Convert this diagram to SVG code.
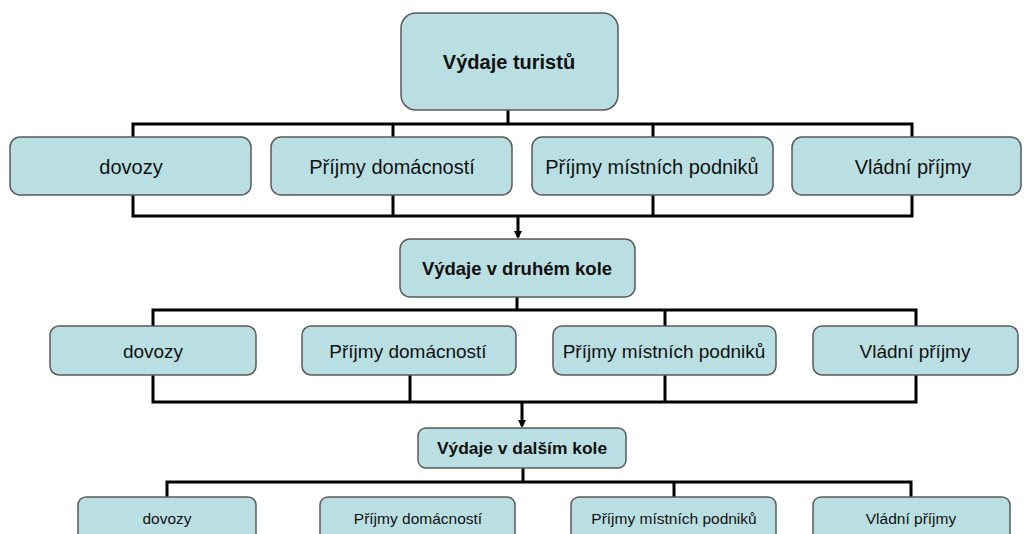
<svg xmlns="http://www.w3.org/2000/svg" width="1024" height="534" viewBox="0 0 1024 534">
<style>
.box{fill:#badfe3;stroke:#5a5a5a;stroke-width:1.5}
.t{font-family:"Liberation Sans",Arial,sans-serif;fill:#111;text-anchor:middle;dominant-baseline:central}
.b{font-weight:bold}
.c{fill:none;stroke:#000;stroke-width:3}
</style>
<defs>
<marker id="ah" markerWidth="8" markerHeight="8" refX="6" refY="4" orient="auto" markerUnits="userSpaceOnUse">
<path d="M0,0 L8,4 L0,8 Z" fill="#000"/>
</marker>
</defs>
<rect width="1024" height="534" fill="#fff"/>
<g id="connectors">
<path class="c" d="M508,110 V124 M133,139 V124 H912 V139 M393,124 V139 M653,124 V139"/>
<path class="c" d="M133,195 V216 H912 V195 M393,195 V216 M653,195 V216"/>
<path class="c" d="M518,216 V237" marker-end="url(#ah)"/>
<path class="c" d="M517,297 V310 M153,327 V310 H916 V327 M665,310 V327"/>
<path class="c" d="M153,375 V402 H916 V375 M410,375 V402 M665,375 V402"/>
<path class="c" d="M522,402 V426" marker-end="url(#ah)"/>
<path class="c" d="M523,468 V482 M167,498 V482 H911 V498 M674,482 V498"/>
</g>
<g id="n0"><rect class="box" x="401" y="13" width="217" height="97" rx="15"/><text class="t b" x="509" y="62" font-size="20">Výdaje turistů</text></g>
<g id="n1"><rect class="box" x="10" y="137" width="241" height="58" rx="10"/><text class="t" x="131" y="167" font-size="20">dovozy</text></g>
<g id="n2"><rect class="box" x="271" y="137" width="241" height="58" rx="10"/><text class="t" x="392" y="167" font-size="20">Příjmy domácností</text></g>
<g id="n3"><rect class="box" x="532" y="137" width="241" height="58" rx="10"/><text class="t" x="652" y="167" font-size="20">Příjmy místních podniků</text></g>
<g id="n4"><rect class="box" x="792" y="137" width="229" height="58" rx="10"/><text class="t" x="913" y="167" font-size="20">Vládní příjmy</text></g>
<g id="n5"><rect class="box" x="400" y="239" width="235" height="58" rx="10"/><text class="t b" x="517" y="268" font-size="18.5">Výdaje v druhém kole</text></g>
<g id="n6"><rect class="box" x="50" y="326" width="206" height="49" rx="9"/><text class="t" x="153" y="351" font-size="19">dovozy</text></g>
<g id="n7"><rect class="box" x="302" y="326" width="214" height="49" rx="9"/><text class="t" x="408" y="351" font-size="19">Příjmy domácností</text></g>
<g id="n8"><rect class="box" x="553" y="326" width="223" height="49" rx="9"/><text class="t" x="664" y="351" font-size="19">Příjmy místních podniků</text></g>
<g id="n9"><rect class="box" x="813" y="326" width="205" height="49" rx="9"/><text class="t" x="915" y="351" font-size="19">Vládní příjmy</text></g>
<g id="n10"><rect class="box" x="418" y="428" width="208" height="40" rx="8"/><text class="t b" x="522" y="448" font-size="17.4">Výdaje v dalším kole</text></g>
<g id="n11"><rect class="box" x="78" y="497" width="178" height="45" rx="8"/><text class="t" x="167" y="518" font-size="15.5">dovozy</text></g>
<g id="n12"><rect class="box" x="320" y="497" width="195" height="45" rx="8"/><text class="t" x="418" y="518" font-size="15.5">Příjmy domácností</text></g>
<g id="n13"><rect class="box" x="571" y="497" width="205" height="45" rx="8"/><text class="t" x="674" y="518" font-size="15.5">Příjmy místních podniků</text></g>
<g id="n14"><rect class="box" x="813" y="497" width="197" height="45" rx="8"/><text class="t" x="911" y="518" font-size="15.5">Vládní příjmy</text></g>
</svg>
